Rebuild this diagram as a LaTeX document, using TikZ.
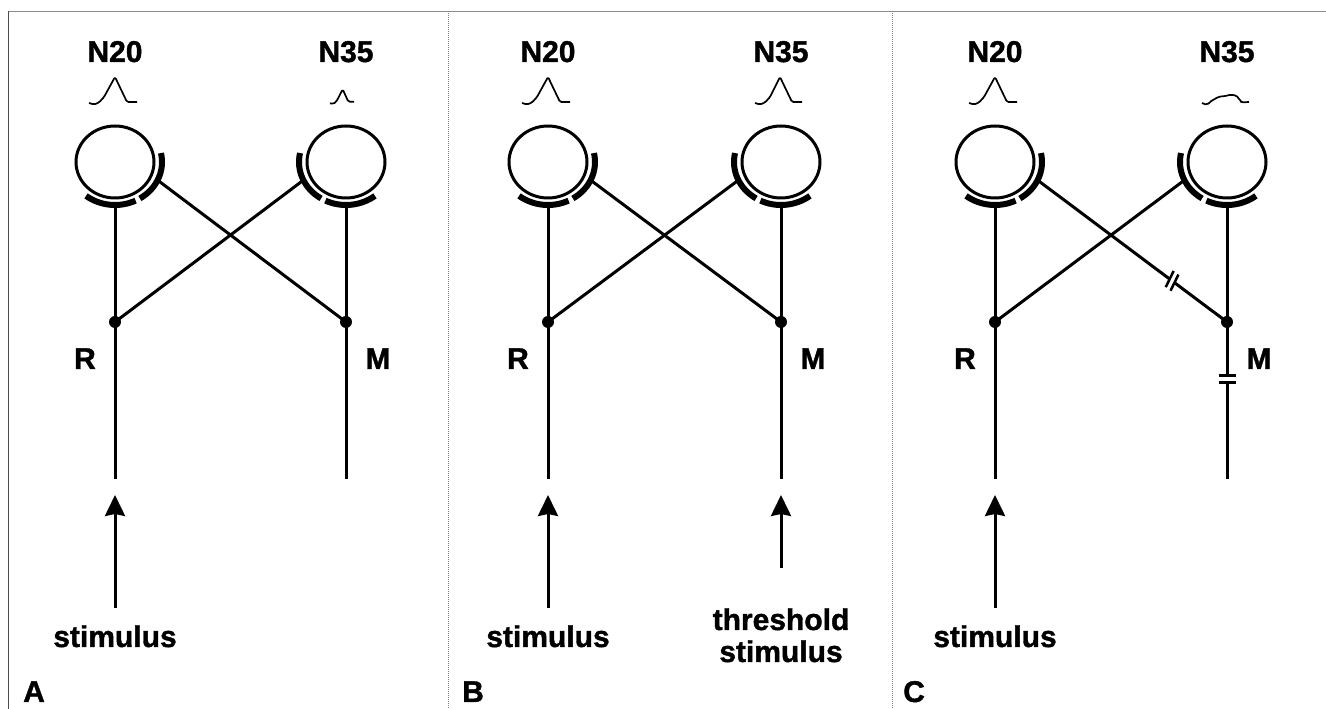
\documentclass[tikz,border=0pt]{standalone}
\usepackage{fontspec}
\setmainfont{Liberation Sans}[BoldFeatures={FakeBold=1.3}]
\usetikzlibrary{shapes.geometric,arrows.meta,calc}
\tikzset{
  soma/.style={ellipse, draw, line width=3pt, minimum width=78pt, minimum height=72pt, inner sep=0pt},
  syn/.style={line width=6pt},
  ln/.style={line width=3pt},
  wave/.style={line width=1.7pt, line join=round, rounded corners=1.5pt},
  dot/.style={circle, fill, minimum size=12pt, inner sep=0pt},
  lbl/.style={font=\fontsize{30}{32}\selectfont\bfseries, inner sep=0pt, anchor=base},
  plbl/.style={font=\fontsize{30}{32}\selectfont\bfseries, inner sep=0pt, anchor=base west},
  arr/.style={line width=3pt, -{Stealth[length=21pt,width=20pt,inset=2pt]}},
  divider/.style={line width=1pt, gray, dash pattern=on 1pt off 1pt},
  brk/.style={line width=2.5pt},
  frame/.style={line width=1.2pt},
}
% #1 suffix, #2 R x, #3 M x
\newcommand\panelbase[3]{%
  \node[soma] (L#1) at (#2,547) {};
  \node[soma] (M#1) at (#3,547) {};
  \node[lbl] (tN20#1) at (#2,647) {N20};
  \node[lbl] (tN35#1) at (#3,647) {N35};
  \node[lbl] (tR#1) at ($(#2,340)+(-30,0)$) {R};
  \node[lbl] (tM#1) at ($(#3,340)+(32,0)$) {M};
  \coordinate (Lb#1) at (#2,504);
  \coordinate (Mb#1) at (#3,504);
  \coordinate (La#1) at ($(L#1)+(-25:47 and 43)$);
  \coordinate (Ma#1) at ($(M#1)+(205:47 and 43)$);
  \coordinate (Re#1) at (#2,230);
  \coordinate (Me#1) at (#3,230);
  \node[dot] (Rj#1) at (#2,387) {};
  \node[dot] (Mj#1) at (#3,387) {};
  \draw[ln] (Lb#1) -- (Rj#1.center) -- (Re#1);
  \draw[ln] (Ma#1) -- (Rj#1.center);
  \draw[syn] ($(L#1)+(232:47 and 43)$) arc[start angle=232,end angle=296,x radius=47,y radius=43];
  \draw[syn] ($(L#1)+(302:47 and 43)$) arc[start angle=302,end angle=372,x radius=47,y radius=43];
  \draw[syn] ($(M#1)+(168:47 and 43)$) arc[start angle=168,end angle=238,x radius=47,y radius=43];
  \draw[syn] ($(M#1)+(244:47 and 43)$) arc[start angle=244,end angle=308,x radius=47,y radius=43];
  \draw[wave, shift={(#2,0)}] (-26,606) -- (-21,604.5) -- (-16,606.5) -- (-11,612) -- (0,632) -- (12,607) -- (22,607);
}
\begin{document}
\begin{tikzpicture}[x=1pt,y=1pt]
\useasboundingbox (0,0) rectangle (1326,709);
% frame and dividers
\coordinate (TL) at (8.5,697.5);
\coordinate (TR) at (1326,697.5);
\coordinate (BL) at (8.5,0);
\draw[frame, black!45] (TL) -- (TR);
\draw[frame, black!70, line width=1.5pt] (TL) -- (BL);
\coordinate (d1t) at (448,697.5);
\coordinate (d1b) at (448,0);
\coordinate (d2t) at (892,697.5);
\coordinate (d2b) at (892,0);
\draw[divider] (d1t) -- (d1b);
\draw[divider] (d2t) -- (d2b);

% ---------- Panel A ----------
\panelbase{A}{115}{346}
\draw[ln] (LaA) -- (MjA.center);
\draw[ln] (MbA) -- (MjA.center) -- (MeA);
\draw[wave, shift={(346,0)}] (-16,605.7) -- (-13,605) -- (-9.7,607.3) -- (-3.3,619.7) -- (2.3,607.3) -- (8,607.3);
\coordinate (sA) at (115,101);
\coordinate (tA) at (115,214);
\draw[arr] (sA) -- (tA);
\node[lbl] (stimA) at (115,62) {stimulus};
\node[plbl] (labA) at (23,7) {A};

% ---------- Panel B ----------
\panelbase{B}{548}{781}
\draw[ln] (LaB) -- (MjB.center);
\draw[ln] (MbB) -- (MjB.center) -- (MeB);
\draw[wave, shift={(781,0)}] (-26,606) -- (-21,604.5) -- (-16,606.5) -- (-11,612) -- (-1,632) -- (11,607) -- (21,607);
\coordinate (sB) at (548,101);
\coordinate (tB) at (548,214);
\draw[arr] (sB) -- (tB);
\coordinate (sB2) at (781,141);
\coordinate (tB2) at (781,214);
\draw[arr] (sB2) -- (tB2);
\node[lbl] (stimB) at (548,62) {stimulus};
\node[lbl] (thrB) at (781,79) {threshold};
\node[lbl] (thrB2) at (781,47) {stimulus};
\node[plbl] (labB) at (462,7) {B};

% ---------- Panel C ----------
\panelbase{C}{995}{1227}
\coordinate (bk) at ($(LaC)!0.71!(MjC)$);
\coordinate (bk1) at ($(bk)!3pt!(LaC)$);
\coordinate (bk2) at ($(bk)!3pt!(MjC)$);
\draw[ln] (LaC) -- (bk1);
\draw[ln] (bk2) -- (MjC.center);
\draw[brk] ($(bk1)+(64:9)$) -- ($(bk1)+(244:9)$);
\draw[brk] ($(bk2)+(64:9)$) -- ($(bk2)+(244:9)$);
\coordinate (mb1) at (1227,333.5);
\coordinate (mb2) at (1227,326.5);
\draw[ln] (MbC) -- (MjC.center) -- (mb1);
\draw[ln] (mb2) -- (MeC);
\draw[brk] ($(mb1)+(-8.5,0)$) -- ($(mb1)+(8.5,0)$);
\draw[brk] ($(mb2)+(-8.5,0)$) -- ($(mb2)+(8.5,0)$);
\draw[wave, shift={(1227,0)}] plot[smooth, tension=0.5] coordinates {(-25,606) (-20,605) (-14,609) (-8,612) (-2,613) (4,614) (9,613) (13,609) (15,607) (22,607)};
\coordinate (sC) at (995,101);
\coordinate (tC) at (995,214);
\draw[arr] (sC) -- (tC);
\node[lbl] (stimC) at (995,62) {stimulus};
\node[plbl] (labC) at (903,7) {C};
\end{tikzpicture}
\end{document}
